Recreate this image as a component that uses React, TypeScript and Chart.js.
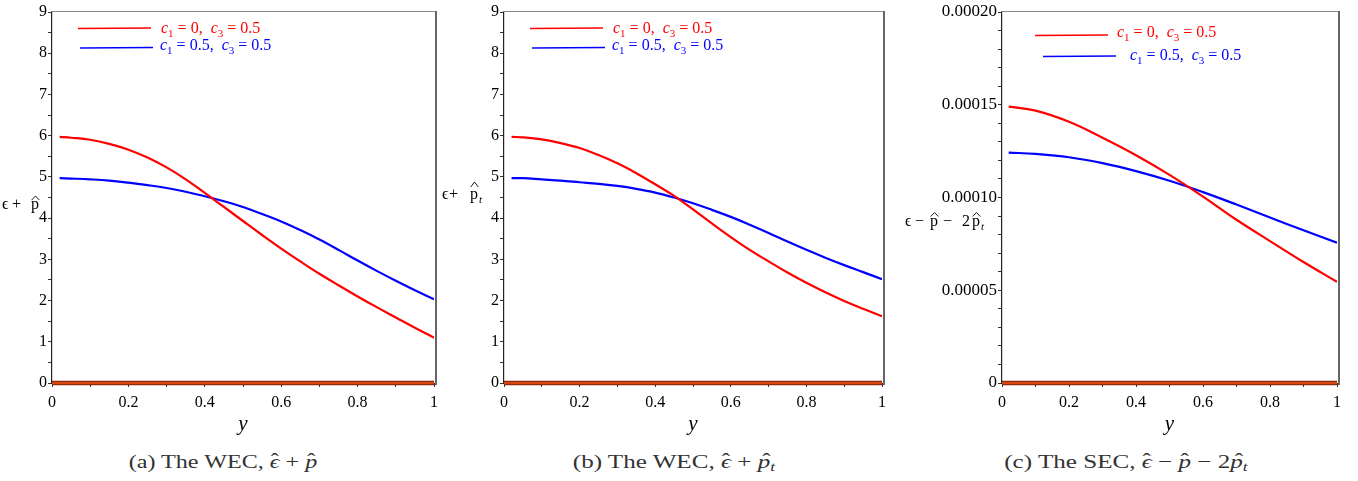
import React, { useEffect, useRef } from 'react';
import { Chart, registerables } from 'chart.js';
Chart.register(...registerables);

const FONT = '"Liberation Serif", "Times New Roman", serif';

// ---------- data ----------
const xAB = [0.02, 0.05, 0.1, 0.15, 0.2, 0.25, 0.3, 0.35, 0.4, 0.45, 0.5, 0.55, 0.6, 0.65, 0.7, 0.75, 0.8, 0.85, 0.9, 0.95, 1.0];
const redA = [5.97, 5.95, 5.9, 5.8, 5.66, 5.47, 5.23, 4.94, 4.61, 4.27, 3.93, 3.59, 3.26, 2.95, 2.65, 2.37, 2.1, 1.84, 1.59, 1.34, 1.1];
const blueA = [4.97, 4.96, 4.94, 4.91, 4.86, 4.8, 4.73, 4.64, 4.53, 4.41, 4.27, 4.1, 3.92, 3.71, 3.48, 3.23, 2.97, 2.72, 2.48, 2.25, 2.03];
const redB = [5.97, 5.96, 5.91, 5.82, 5.7, 5.53, 5.33, 5.09, 4.82, 4.54, 4.21, 3.87, 3.54, 3.23, 2.95, 2.68, 2.43, 2.2, 1.99, 1.8, 1.62];
const blueB = [4.97, 4.97, 4.94, 4.91, 4.87, 4.83, 4.78, 4.71, 4.62, 4.5, 4.36, 4.2, 4.03, 3.84, 3.64, 3.43, 3.23, 3.04, 2.86, 2.69, 2.52];
const xC = [0.02, 0.1, 0.2, 0.3, 0.4, 0.5, 0.6, 0.7, 0.8, 0.9, 1.0];
const redC = [1.49e-4, 1.468e-4, 1.408e-4, 1.322e-4, 1.228e-4, 1.122e-4, 1.005e-4, 0.88e-4, 0.765e-4, 0.652e-4, 0.545e-4];
const blueC = [1.242e-4, 1.235e-4, 1.217e-4, 1.185e-4, 1.142e-4, 1.09e-4, 1.029e-4, 0.962e-4, 0.892e-4, 0.823e-4, 0.756e-4];
const zeroX = [0, 1];
const zeroY = [0, 0];

const xTickLabels = ['0', '0.2', '0.4', '0.6', '0.8', '1'];
const yTickLabelsAB = ['0', '1', '2', '3', '4', '5', '6', '7', '8', '9'];
const yTickLabelsC = ['0', '0.00005', '0.00010', '0.00015', '0.00020'];
const legendRed = ['= 0,', '= 0.5'];
const legendBlue = ['= 0.5,', '= 0.5'];

type Tok = { t: string; x: number; hat?: boolean; sub?: boolean };

interface PanelCfg {
  left: number; width: number; areaLeft: number; areaRight: number;
  xs: number[]; red: number[]; blue: number[];
  yMax: number; yStep: number; yLabel: (v: number) => string; yFont: number;
  leg: { rx1: number; rx2: number; ry: number; rtx: number; rty: number; bx1: number; bx2: number; by: number; btx: number; bty: number };
  ylab: { y: number; hatLo: number; hatHi: number; toks: Tok[] };
}

const xCb = (v: number) => {
  const r = Math.round(v * 10);
  return r % 2 === 0 ? xTickLabels[r / 2] : '';
};
const yCbAB = (v: number) => {
  const r = Math.round(v * 2);
  return r % 2 === 0 ? yTickLabelsAB[r / 2] : '';
};
const yCbC = (v: number) => {
  const r = Math.round(v * 1e5);
  return r % 5 === 0 ? yTickLabelsC[r / 5] : '';
};

const panels: PanelCfg[] = [
  {
    left: 0, width: 450, areaLeft: 52, areaRight: 434, xs: xAB, red: redA, blue: blueA,
    yMax: 9, yStep: 0.5, yLabel: yCbAB, yFont: 16,
    leg: { rx1: 78, rx2: 151, ry: 28, rtx: 161, rty: 33, bx1: 80, bx2: 153, by: 47.5, btx: 160, bty: 50 },
    ylab: { y: 209, hatLo: 9, hatHi: 13, toks: [{ t: 'ϵ', x: 2 }, { t: '+', x: 12 }, { t: 'p', x: 31, hat: true }] },
  },
  {
    left: 440, width: 452, areaLeft: 504, areaRight: 885.5, xs: xAB, red: redB, blue: blueB,
    yMax: 9, yStep: 0.5, yLabel: yCbAB, yFont: 16,
    leg: { rx1: 530, rx2: 603, ry: 28, rtx: 613, rty: 33, bx1: 532, bx2: 605, by: 47.5, btx: 612, bty: 50 },
    ylab: { y: 199, hatLo: 12, hatHi: 17, toks: [{ t: 'ϵ', x: 442 }, { t: '+', x: 449 }, { t: 'p', x: 470, hat: true }, { t: 't', x: 479, sub: true }] },
  },
  {
    left: 890, width: 468, areaLeft: 1002, areaRight: 1337, xs: xC, red: redC, blue: blueC,
    yMax: 0.0002, yStep: 0.00001, yLabel: yCbC, yFont: 17,
    leg: { rx1: 1035, rx2: 1108, ry: 35, rtx: 1117, rty: 37, bx1: 1043, bx2: 1116, by: 56, btx: 1130, bty: 60 },
    ylab: {
      y: 226, hatLo: 9.5, hatHi: 13.5,
      toks: [{ t: 'ϵ', x: 905 }, { t: '−', x: 915 }, { t: 'p', x: 930, hat: true }, { t: '−', x: 943 }, { t: '2', x: 962 }, { t: 'p', x: 972, hat: true }, { t: 't', x: 981, sub: true }],
    },
  },
];

function drawLegendText(ctx: CanvasRenderingContext2D, x: number, y: number, color: string, vals: string[]) {
  ctx.fillStyle = color;
  ctx.textBaseline = 'alphabetic';
  ctx.textAlign = 'left';
  let cx = x;
  const parts: { t: string; f: string; dy: number }[] = [
    { t: 'c', f: `italic 16px ${FONT}`, dy: 0 },
    { t: '1', f: `11px ${FONT}`, dy: 4 },
    { t: ' ' + vals[0] + '  ', f: `16px ${FONT}`, dy: 0 },
    { t: 'c', f: `italic 16px ${FONT}`, dy: 0 },
    { t: '3', f: `11px ${FONT}`, dy: 4 },
    { t: ' ' + vals[1], f: `16px ${FONT}`, dy: 0 },
  ];
  for (const p of parts) {
    ctx.font = p.f;
    ctx.fillText(p.t, cx, y + p.dy);
    cx += ctx.measureText(p.t).width;
  }
}

const decorPlugin = {
  id: 'decor',
  afterDraw(chart: any, _args: any, opts: any) {
    const cfg: PanelCfg = opts.cfg;
    if (!cfg) return;
    const off = cfg.left;
    const ctx: CanvasRenderingContext2D = chart.ctx;
    const ca = chart.chartArea;
    ctx.save();
    // frame: top and right
    ctx.strokeStyle = '#8a8a8a';
    ctx.lineWidth = 1;
    ctx.beginPath();
    ctx.moveTo(ca.left - 1, ca.top - 0.5);
    ctx.lineTo(ca.right + 2, ca.top - 0.5);
    ctx.stroke();
    ctx.strokeStyle = '#666';
    ctx.lineWidth = 2;
    ctx.beginPath();
    ctx.moveTo(ca.right + 2, ca.top - 1);
    ctx.lineTo(ca.right + 2, ca.bottom + 2);
    ctx.stroke();

    // legend
    const L = cfg.leg;
    ctx.lineWidth = 1.5;
    ctx.strokeStyle = '#ff0000';
    ctx.beginPath();
    ctx.moveTo(L.rx1 - off, L.ry + 0.5);
    ctx.lineTo(L.rx2 - off, L.ry);
    ctx.stroke();
    drawLegendText(ctx, L.rtx - off, L.rty, '#ff0000', legendRed);
    ctx.strokeStyle = '#0000ff';
    ctx.beginPath();
    ctx.moveTo(L.bx1 - off, L.by + 0.5);
    ctx.lineTo(L.bx2 - off, L.by);
    ctx.stroke();
    drawLegendText(ctx, L.btx - off, L.bty, '#0000ff', legendBlue);

    // y label
    const Y = cfg.ylab;
    ctx.fillStyle = '#000';
    ctx.strokeStyle = '#000';
    ctx.lineWidth = 0.9;
    ctx.textBaseline = 'alphabetic';
    ctx.textAlign = 'left';
    for (const tk of Y.toks) {
      ctx.font = tk.sub ? `italic 11px ${FONT}` : `16px ${FONT}`;
      const w = ctx.measureText(tk.t).width;
      const cx = tk.x - off;
      ctx.fillText(tk.t, cx, Y.y + (tk.sub ? 4 : 0));
      if (tk.hat) {
        const mx = cx + w / 2 + 0.5;
        ctx.beginPath();
        ctx.moveTo(mx - 3.8, Y.y - Y.hatLo);
        ctx.lineTo(mx, Y.y - Y.hatHi);
        ctx.lineTo(mx + 3.8, Y.y - Y.hatLo);
        ctx.stroke();
      }
    }

    // x axis title
    ctx.font = `italic 21px ${FONT}`;
    ctx.textAlign = 'center';
    ctx.fillText('y', (ca.left + ca.right) / 2, 430);
    ctx.restore();
  },
};

function Panel({ cfg }: { cfg: PanelCfg }) {
  const ref = useRef<HTMLCanvasElement | null>(null);
  useEffect(() => {
    if (!ref.current) return;
    const gridCommon = { drawOnChartArea: false, drawTicks: true, tickLength: 4, color: '#333', lineWidth: 1 };
    const chart = new Chart(ref.current, {
      type: 'line',
      data: {
        datasets: [
          {
            data: cfg.xs.map((x, i) => ({ x, y: cfg.red[i] })),
            borderColor: '#ff0000', borderWidth: 2.2, pointRadius: 0, tension: 0.4, fill: false,
          },
          {
            data: cfg.xs.map((x, i) => ({ x, y: cfg.blue[i] })),
            borderColor: '#0000ff', borderWidth: 2.2, pointRadius: 0, tension: 0.4, fill: false,
          },
          {
            data: zeroX.map((x, i) => ({ x, y: zeroY[i] })),
            borderColor: '#d9470f', borderWidth: 2.2, pointRadius: 0, fill: false, clip: 8,
          },
          {
            data: zeroX.map((x, i) => ({ x, y: zeroY[i] })),
            borderColor: '#8e2a0c', borderWidth: 4.4, pointRadius: 0, fill: false, clip: 8,
          },
        ],
      },
      options: {
        responsive: false,
        animation: false,
        events: [],
        layout: { padding: { left: 0, right: cfg.width - (cfg.areaRight - cfg.left), top: 12, bottom: 0 } },
        plugins: { legend: { display: false }, tooltip: { enabled: false }, decor: { cfg } } as any,
        scales: {
          x: {
            type: 'linear', min: 0, max: 1,
            afterFit: (s: any) => { s.height = 57; },
            ticks: { stepSize: 0.1, autoSkip: false, maxRotation: 0, padding: 6, color: '#000', font: { family: FONT, size: 16 }, callback: (v: any) => xCb(Number(v)) },
            grid: gridCommon,
            border: { display: false },
          },
          y: {
            type: 'linear', min: 0, max: cfg.yMax,
            afterFit: (s: any) => { s.width = cfg.areaLeft - cfg.left; },
            ticks: { stepSize: cfg.yStep, autoSkip: false, padding: 1, color: '#000', font: { family: FONT, size: cfg.yFont }, callback: (v: any) => cfg.yLabel(Number(v)) },
            grid: gridCommon,
            border: { display: true, color: '#222', width: 1.2 },
          },
        },
      },
      plugins: [decorPlugin],
    } as any);
    return () => chart.destroy();
  }, [cfg]);
  return (
    <canvas
      ref={ref}
      width={cfg.width}
      height={440}
      style={{ position: 'absolute', left: cfg.left, top: 0, width: cfg.width, height: 440 }}
    />
  );
}

function Hat({ ch, sub }: { ch: string; sub?: string }) {
  return (
    <span style={{ position: 'relative', display: 'inline-block' }}>
      <i>{ch}</i>
      <span style={{ position: 'absolute', left: 0, right: 0, top: '-0.12em', textAlign: 'center', fontStyle: 'normal' }}>ˆ</span>
      {sub ? <sub style={{ fontSize: '0.7em', fontStyle: 'italic', verticalAlign: '-0.25em' }}>{sub}</sub> : null}
    </span>
  );
}

const captionStyle = (center: number, sx: number): React.CSSProperties => ({
  position: 'absolute', left: center - 200, width: 400, top: 451, textAlign: 'center',
  fontFamily: FONT, fontSize: 19, lineHeight: '22px', color: '#333', whiteSpace: 'pre',
  transform: `scaleX(${sx})`, transformOrigin: '50% 50%',
});

export default function App() {
  return (
    <div style={{ position: 'absolute', left: 0, top: 0, width: 1358, height: 481, background: '#fff', overflow: 'hidden' }}>
      {panels.map((p, i) => <Panel key={i} cfg={p} />)}
      <div style={captionStyle(223, 1.27)}>(a) The WEC, <Hat ch="ϵ" /> + <Hat ch="p" /></div>
      <div style={captionStyle(674, 1.32)}>(b) The WEC, <Hat ch="ϵ" /> + <Hat ch="p" sub="t" /></div>
      <div style={captionStyle(1126, 1.32)}>(c) The SEC, <Hat ch="ϵ" /> − <Hat ch="p" /> − 2<Hat ch="p" sub="t" /></div>
    </div>
  );
}
